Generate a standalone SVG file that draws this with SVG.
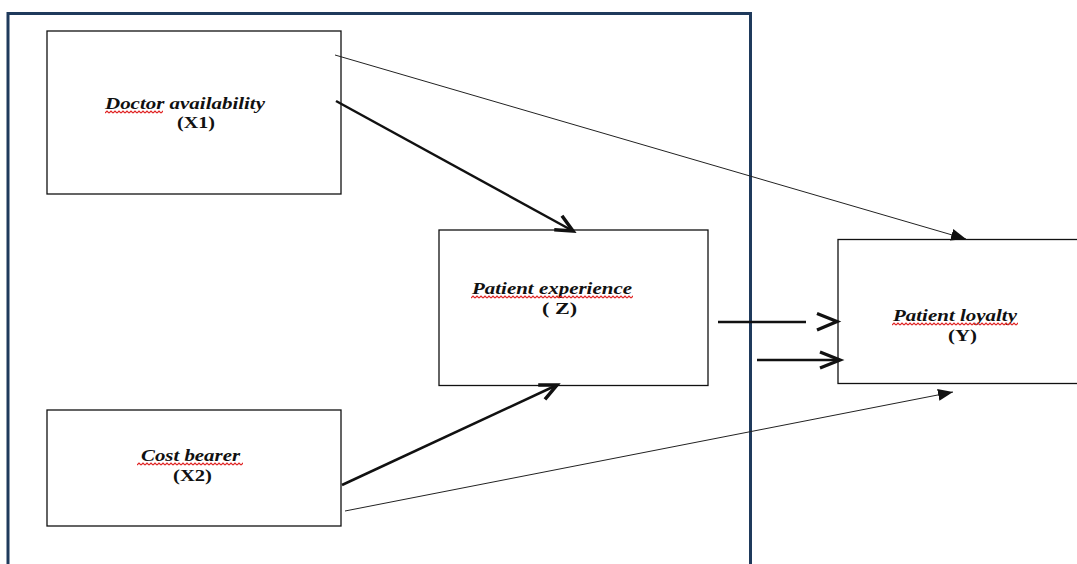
<svg xmlns="http://www.w3.org/2000/svg" width="1077" height="564" viewBox="0 0 1077 564">
<style>
.box{fill:#fff;stroke:#111;stroke-width:1.3}
.frame{fill:none;stroke:#1f3a5c;stroke-width:3}
.t{font-family:"Liberation Serif","Times New Roman",serif;font-size:17.5px;font-weight:bold;fill:#111}
.ti{font-style:italic}
.thin{stroke:#222;stroke-width:1;fill:none}
.thick{stroke:#111;stroke-width:2.5;fill:none}
.chev{stroke:#111;stroke-width:3.3;fill:none;stroke-linejoin:miter}
</style>
<defs>
<marker id="fillhead" markerUnits="userSpaceOnUse" markerWidth="20" markerHeight="16" refX="15" refY="6" orient="auto">
<path d="M0,0 L15,6 L0,12 Z" fill="#111"/>
</marker>
<marker id="openhead" markerUnits="userSpaceOnUse" markerWidth="26" markerHeight="26" refX="20" refY="10" orient="auto">
<path d="M3,2 L20,10 L3,18" fill="none" stroke="#111" stroke-width="3.5"/>
</marker>
<pattern id="sq" patternUnits="userSpaceOnUse" width="4" height="4">
<path d="M0,3 L2,1 L4,3" fill="none" stroke="#e02020" stroke-width="1.2"/>
</pattern>
</defs>
<rect width="1077" height="564" fill="#fff"/>
<path class="frame" d="M8,580 V13.5 H750.5 V580"/>
<g id="node-x1">
<rect class="box" x="47" y="31" width="294" height="163"/>
<text class="t ti" x="105" y="108.5" textLength="160" lengthAdjust="spacingAndGlyphs">Doctor availability</text>
<text class="t" x="177" y="128" textLength="38" lengthAdjust="spacingAndGlyphs">(X1)</text>
<rect x="0" y="0" width="58" height="4" transform="translate(105,110)" fill="url(#sq)"/>
</g>
<g id="node-z">
<rect class="box" x="439" y="230" width="269" height="155.5"/>
<text class="t ti" x="472" y="294" textLength="160" lengthAdjust="spacingAndGlyphs">Patient experience</text>
<text class="t" x="542" y="314" textLength="35" lengthAdjust="spacingAndGlyphs">( Z)</text>
<rect x="0" y="0" width="162" height="4" transform="translate(471,295)" fill="url(#sq)"/>
</g>
<g id="node-y">
<rect class="box" x="838" y="239.5" width="260" height="144"/>
<text class="t ti" x="893" y="321" textLength="124" lengthAdjust="spacingAndGlyphs">Patient loyalty</text>
<text class="t" x="948" y="341" textLength="29" lengthAdjust="spacingAndGlyphs">(Y)</text>
<rect x="0" y="0" width="126" height="4" transform="translate(892,322)" fill="url(#sq)"/>
</g>
<g id="node-x2">
<rect class="box" x="47" y="410" width="294" height="116"/>
<text class="t ti" x="141" y="461" textLength="99" lengthAdjust="spacingAndGlyphs">Cost bearer</text>
<text class="t" x="173" y="481" textLength="39" lengthAdjust="spacingAndGlyphs">(X2)</text>
<rect x="0" y="0" width="106" height="4" transform="translate(137,462)" fill="url(#sq)"/>
</g>
<g id="connectors">
<line class="thin" x1="335" y1="55" x2="966" y2="239" marker-end="url(#fillhead)"/>
<line class="thin" x1="345" y1="511" x2="953" y2="392" marker-end="url(#fillhead)"/>
<line class="thick" x1="336" y1="101" x2="573" y2="231" marker-end="url(#openhead)"/>
<line class="thick" x1="342" y1="485" x2="557" y2="385" marker-end="url(#openhead)"/>
<line class="thick" x1="718" y1="322" x2="806" y2="322"/>
<path class="chev" d="M817,313.5 L837,321.5 L817,330"/>
<line class="thick" x1="757" y1="360" x2="836" y2="360"/>
<path class="chev" d="M820,352 L840,360 L820,368"/>
</g>
</svg>
